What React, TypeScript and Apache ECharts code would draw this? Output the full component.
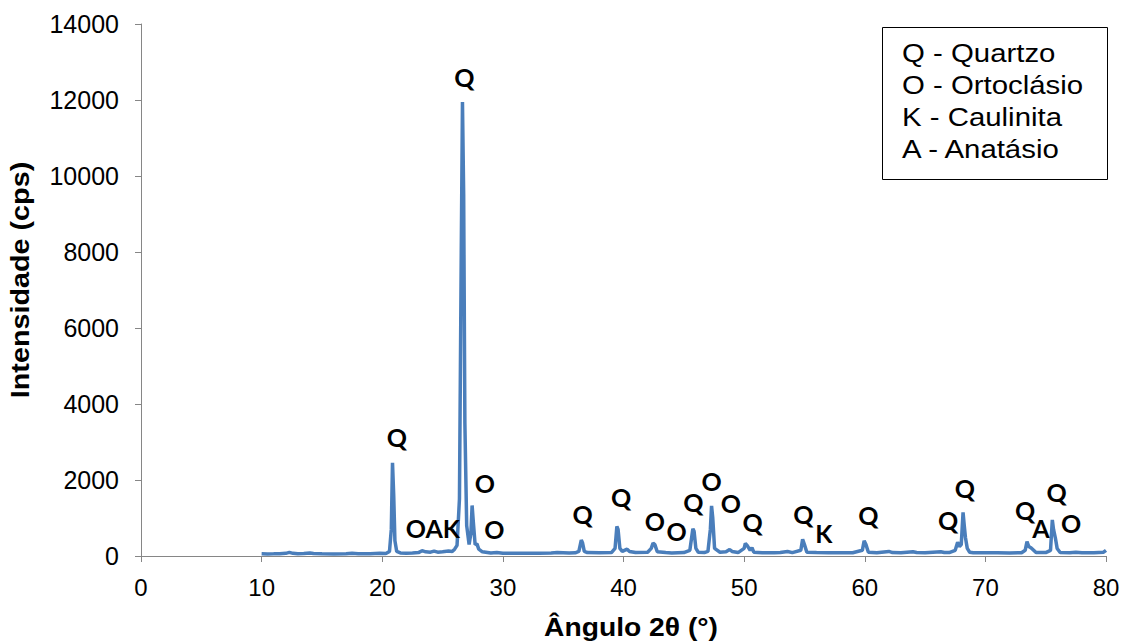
import React, { useEffect, useRef } from "react";
import * as echarts from "echarts";

// 2θ angles (degrees) and intensities (cps)
const angles = [
  10.0, 10.5, 11.0, 11.5, 12.0, 12.3, 12.6, 13.0, 13.5, 14.0, 14.3, 15.0, 16.0, 17.0, 17.5, 18.0, 19.0, 19.8, 20.3,
  20.6, 20.75, 20.85, 20.95, 21.05, 21.2, 21.5, 22.0, 22.5, 23.0, 23.3, 23.6, 24.0, 24.3, 24.6, 25.0, 25.5, 25.8,
  26.0, 26.2, 26.4, 26.55, 26.65, 26.75, 26.85, 27.0, 27.2, 27.35, 27.45, 27.55, 27.7, 27.85, 28.0, 28.3, 29.0,
  29.5, 30.0, 31.0, 32.0, 33.0, 34.0, 34.5, 35.0, 35.5, 36.0, 36.3, 36.5, 36.6, 36.75, 37.0, 38.0, 39.0, 39.3,
  39.45, 39.55, 39.7, 39.9, 40.3, 40.5, 41.0, 42.0, 42.3, 42.45, 42.6, 42.8, 43.5, 44.0, 45.0, 45.5, 45.75, 45.85,
  46.0, 46.2, 46.7, 47.0, 47.2, 47.3, 47.4, 47.55, 48.0, 48.5, 48.8, 49.0, 49.5, 50.0, 50.1, 50.25, 50.5, 50.65,
  50.8, 51.5, 52.5, 53.0, 53.6, 54.0, 54.7, 54.85, 55.0, 55.2, 56.0, 57.0, 58.0, 59.0, 59.8, 59.95, 60.1, 60.3,
  61.0, 62.0, 62.3, 63.0, 64.0, 64.3, 65.0, 66.3, 66.6, 67.0, 67.5, 67.7, 67.85, 68.0, 68.15, 68.25, 68.35, 68.5,
  68.7, 69.0, 70.0, 71.0, 72.0, 73.0, 73.3, 73.45, 73.6, 73.8, 74.0, 74.2, 75.0, 75.4, 75.55, 75.65, 75.8, 75.95,
  76.2, 77.0, 77.5, 78.0, 79.0, 79.8, 80.0,
];
const counts = [
  60, 55, 58, 62, 70, 95, 70, 60, 65, 80, 65, 58, 55, 60, 70, 62, 58, 70, 65,
  120, 700, 2450, 1600, 400, 120, 80, 75, 80, 90, 140, 110, 100, 130, 100, 110, 130, 120,
  180, 280, 1500, 8000, 11950, 9500, 3500, 800, 300, 600, 1330, 900, 300, 320, 180, 110, 80,
  90, 75, 70, 70, 75, 80, 90, 85, 80, 85, 120, 420, 350, 120, 90, 85, 90, 200,
  780, 700, 200, 120, 180, 120, 90, 100, 200, 340, 300, 110, 90, 80, 90, 150, 720, 650,
  200, 100, 90, 120, 700, 1320, 1000, 200, 100, 110, 170, 120, 90, 200, 330, 280, 150, 220,
  100, 85, 85, 90, 120, 90, 150, 440, 300, 100, 90, 85, 85, 85, 150, 400, 300, 100,
  85, 120, 90, 85, 110, 90, 85, 110, 90, 90, 150, 360, 250, 300, 1150, 800, 480, 200,
  100, 85, 85, 85, 80, 85, 150, 380, 250, 210, 150, 90, 90, 150, 950, 700, 480, 200,
  90, 85, 100, 85, 85, 100, 150,
];

// Phase labels placed above peaks: letter, 2θ, intensity position
const peakLetters = ["Q", "OAK", "Q", "O", "O", "Q", "Q", "O", "O", "Q", "O", "O", "Q", "Q", "K", "Q", "Q", "Q", "Q", "A", "Q", "O"];
const peakAngles = [21.2, 24.2, 26.8, 28.5, 29.3, 36.6, 39.8, 42.6, 44.4, 45.8, 47.3, 48.9, 50.7, 54.9, 56.6, 60.3, 66.9, 68.3, 73.3, 74.6, 75.9, 77.1];
const peakHeights = [3130, 737, 12600, 1920, 710, 1100, 1550, 920, 660, 1420, 1970, 1390, 895, 1100, 605, 1080, 950, 1790, 1210, 737, 1680, 870];

const legendLines = ["Q - Quartzo", "O - Ortoclásio", "K - Caulinita", "A - Anatásio"];

const xTicks = { min: 0, max: 80, interval: 10 };
const yTicks = { min: 0, max: 14000, interval: 2000 };

export default function App() {
  const ref = useRef<HTMLDivElement>(null);
  useEffect(() => {
    if (!ref.current) return;
    const chart = echarts.init(ref.current, null, { renderer: "svg" });
    const lineData = angles.map((a, i) => [a, counts[i]]);
    const labelData = peakLetters.map((t, i) => ({ name: t, value: [peakAngles[i], peakHeights[i]] }));
    const axisColor = "#868686";
    chart.setOption({
      animation: false,
      backgroundColor: "#ffffff",
      grid: { left: 141, right: 17, top: 24, bottom: 88, containLabel: false, outerBoundsMode: "none" },
      xAxis: {
        type: "value",
        min: xTicks.min,
        max: xTicks.max,
        interval: xTicks.interval,
        axisLine: { show: true, onZero: false, lineStyle: { color: axisColor, width: 1 } },
        axisTick: { show: true, inside: false, length: 6, lineStyle: { color: axisColor } },
        axisLabel: { fontFamily: "Liberation Sans", fontSize: 24, color: "#000", margin: 19 },
        splitLine: { show: false },
      },
      yAxis: {
        type: "value",
        min: yTicks.min,
        max: yTicks.max,
        interval: yTicks.interval,
        axisLine: { show: true, lineStyle: { color: axisColor, width: 1 } },
        axisTick: { show: true, inside: false, length: 6, lineStyle: { color: axisColor } },
        axisLabel: {
          fontFamily: "Liberation Sans",
          fontSize: 25,
          color: "#000",
          margin: 22,
          formatter: (v: number) => String(v),
        },
        splitLine: { show: false },
      },
      series: [
        {
          type: "line",
          data: lineData,
          showSymbol: false,
          symbol: "none",
          lineStyle: { color: "#4a7ebb", width: 3.5 },
          z: 2,
        },
        {
          type: "scatter",
          data: labelData,
          symbolSize: 1,
          itemStyle: { color: "rgba(0,0,0,0)", opacity: 1 },
          label: {
            show: true,
            position: "inside",
            formatter: (p: any) => p.name,
            fontFamily: "Lato",
            fontWeight: "bold",
            fontSize: 25,
            color: "#000",
            opacity: 1,
          },
          z: 3,
        },
      ],
      graphic: [
        {
          type: "text",
          x: 21,
          y: 280,
          rotation: Math.PI / 2,
          scaleX: 1.15,
          style: {
            text: "Intensidade (cps)",
            fontFamily: "Liberation Sans",
            fontWeight: "bold",
            fontSize: 25,
            fill: "#000",
            align: "center",
            verticalAlign: "middle",
          },
        },
        {
          type: "text",
          x: 631,
          y: 628,
          scaleX: 1.13,
          style: {
            text: "Ângulo 2θ (°)",
            fontFamily: "Liberation Sans",
            fontWeight: "bold",
            fontSize: 25,
            fill: "#000",
            align: "center",
            verticalAlign: "middle",
          },
        },
        {
          type: "rect",
          left: 882,
          top: 27,
          shape: { width: 225, height: 152 },
          style: { fill: "#fff", stroke: "#000", lineWidth: 1 },
          z: 10,
        },
        ...legendLines.map((t, i) => ({
          type: "text",
          x: 902,
          y: 53 + i * 32,
          scaleX: 1.13,
          style: {
            text: t,
            fontFamily: "Liberation Sans",
            fontSize: 26,
            fill: "#000",
            verticalAlign: "middle",
          },
          z: 11,
        })),
      ],
    });
    return () => chart.dispose();
  }, []);
  return <div ref={ref} style={{ position: "fixed", left: 0, top: 0, width: 1123, height: 644 }} />;
}
